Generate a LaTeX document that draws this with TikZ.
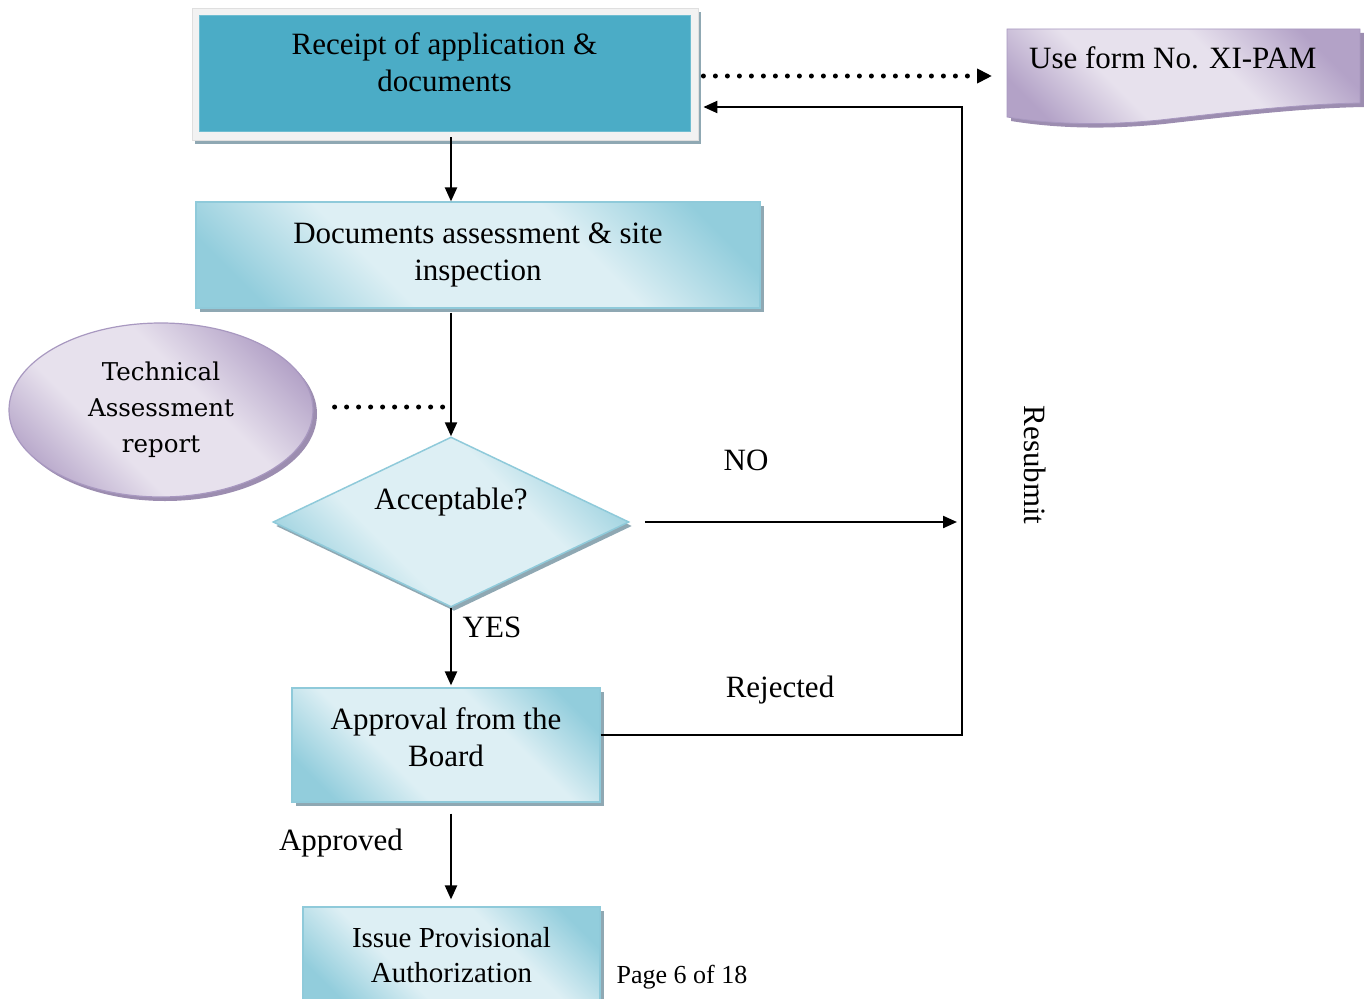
\documentclass[tikz,border=0pt]{standalone}
\usepackage{fontspec}
\setmainfont{Liberation Serif}
\newfontfamily\dvfont{DejaVu Serif}
\usetikzlibrary{shapes.geometric,arrows.meta,shadows,calc}
\definecolor{teal1}{HTML}{4BACC6}
\definecolor{cdark}{HTML}{92CDDC}
\definecolor{clight}{HTML}{DDEFF4}
\definecolor{cborder}{HTML}{8FCADA}
\definecolor{cshadow}{HTML}{8FA8B3}
\definecolor{pdark}{HTML}{B3A2C7}
\definecolor{plight}{HTML}{E7E1ED}
\definecolor{pborder}{HTML}{A898C0}
\definecolor{pshadow}{HTML}{9C8DB0}
\definecolor{framegray}{HTML}{F2F2F2}
\pgfdeclarehorizontalshading{cyanrefl}{100bp}{color(0bp)=(cdark); color(22bp)=(cdark); color(38bp)=(clight); color(62bp)=(clight); color(78bp)=(cdark); color(100bp)=(cdark)}
\pgfdeclarehorizontalshading{purprefl}{100bp}{color(0bp)=(pdark); color(22bp)=(pdark); color(38bp)=(plight); color(58bp)=(plight); color(76bp)=(pdark); color(100bp)=(pdark)}
\tikzset{
  txt/.style={font=\fontsize{31}{37.5}\selectfont, align=center},
  boxc/.style={rectangle, draw=cborder, line width=1.2pt, shading=cyanrefl, shading angle=45,
    general shadow={fill=cshadow, shadow xshift=4pt, shadow yshift=-4pt},
    align=center, inner sep=0pt, font=\fontsize{31}{37.5}\selectfont},
  framebox/.style={rectangle, fill=framegray, draw=gray!25, line width=0.8pt,
    minimum width=506pt, minimum height=132pt,
    general shadow={fill=cshadow, shadow xshift=3pt, shadow yshift=-4pt}},
  ell/.style={ellipse, draw=pborder, line width=1.2pt, shading=purprefl, shading angle=45,
    general shadow={fill=pshadow, shadow xshift=4pt, shadow yshift=-4pt},
    minimum width=304pt, minimum height=174pt, inner sep=0pt, align=center,
    font=\dvfont\fontsize{24.5}{36}\selectfont},
  dia/.style={diamond, draw=cborder, line width=1.5pt, shading=cyanrefl, shading angle=45,
    general shadow={fill=cshadow, shadow xshift=3pt, shadow yshift=-4pt},
    minimum width=356pt, minimum height=170pt, inner sep=0pt},
  arr/.style={line width=2.2pt, -{Triangle[length=14pt,width=12pt]}},
  dots/.style={line width=5pt, dash pattern=on 0pt off 12pt, line cap=round}
}
\begin{document}
\begin{tikzpicture}[x=1pt,y=-1pt]
\useasboundingbox (0,0) rectangle (1364,998);
% form document shape
\begin{scope}[shift={(4,4)}]
\fill[pshadow] (1007,29) -- (1360,29) -- (1360,103) .. controls (1300,104) and (1230,112) .. (1160,120) .. controls (1100,126) and (1050,124) .. (1007,117) -- cycle;
\end{scope}
\shade[shading=purprefl, shading angle=45, draw=pborder, line width=0.8pt] (1007,29) -- (1360,29) -- (1360,103) .. controls (1300,104) and (1230,112) .. (1160,120) .. controls (1100,126) and (1050,124) .. (1007,117) -- cycle;
\node[txt, anchor=west, inner xsep=22pt] (form) at (1007,58) {Use form No. XI-PAM};
% nodes
\node[framebox] (frame) at (445,74) {};
\node[rectangle, fill=teal1, draw=teal1!80!white, line width=0.8pt, minimum width=491pt, minimum height=116pt,
  label={[txt,yshift=11pt]center:Receipt of application \&\\documents}] (receipt) at (444.5,73) {};
\node[boxc, minimum width=564pt, minimum height=106pt] (docs) at (478,255) {Documents assessment \& site\\inspection};
\node[ell] (tech) at (161,410) {Technical\\Assessment\\report};
\node[dia, label={[txt,yshift=20pt]center:Acceptable?}] (acc) at (451,522) {};
\node[boxc, minimum width=308pt, minimum height=114pt,
  label={[txt,yshift=8pt]center:Approval from the\\Board}] (appr) at (446,745) {};
\node[boxc, minimum width=297pt, minimum height=96pt, font=\fontsize{29}{35}\selectfont] (issue) at (451.5,955) {Issue Provisional\\Authorization};
\coordinate (rtop) at (962,107);
% connectors
\draw[arr, shorten <=-3pt] (frame.south -| acc.north) -- (docs.north -| acc.north);
\draw[arr, shorten <=4pt] (docs.south -| acc.north) -- (acc.north);
\draw[dots] ([xshift=21pt,yshift=3pt]tech.east) -- ([yshift=3pt]tech.east -| acc.north);
\draw[arr, shorten <=15pt, shorten >=5pt] (acc.east) -- (acc.east -| rtop);
\draw[arr, shorten >=5pt] ([yshift=10pt]appr.east) -- ([yshift=10pt]appr.east -| rtop) -- (rtop) -- (rtop -| frame.east);
\draw[dots, -{Triangle[length=15pt,width=14pt]}, shorten <=5pt, shorten >=15pt] ([yshift=-2pt]frame.east) -- ([yshift=-2pt]frame.east -| form.west);
\draw[arr, shorten >=2pt] (acc.south) -- (appr.north -| acc.south);
\draw[arr, shorten <=11pt, shorten >=7pt] (appr.south -| acc.south) -- (issue.north -| acc.south);
% labels
\node[txt] (no) at (746,460) {NO};
\node[txt] (yes) at (492,627) {YES};
\node[txt] (rej) at (780,690) {Rejected};
\node[txt] (apd) at (341,843) {Approved};
\node[txt, rotate=-90] (resub) at (1035,465) {Resubmit};
\node[font=\fontsize{26}{30}\selectfont] (page) at (682,977) {Page 6 of 18};
\end{tikzpicture}
\end{document}
